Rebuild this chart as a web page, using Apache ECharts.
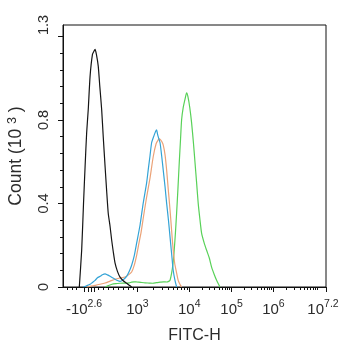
<!DOCTYPE html>
<html>
<head>
<meta charset="utf-8">
<script src="https://cdn.jsdelivr.net/npm/echarts@6/dist/echarts.min.js"></script>
<style>
  html, body { margin: 0; padding: 0; background: #fff; }
  #chart { width: 342px; height: 350px; }
</style>
</head>
<body>
<div id="chart"></div>
<script>
// FITC-H histogram overlay; x is the display channel (0-1000) of the biexponential scale,
// y is the event count in thousands.

// Decade labels on the display scale
const xTickText = [['-10', '2.6'], ['10', '3'], ['10', '4'], ['10', '5'], ['10', '6'], ['10', '7.2']];
const xTickChannel = [80, 283, 480, 641, 800, 1000];
// Extra major ticks clustered around zero
const xZeroTicks = [97, 107, 117];
// Minor ticks in the linear part around zero
const xLinearMinor = [15, 34, 51, 133, 152, 171, 190, 209, 228, 247, 266];
// Decade exponents that get log-spaced minor ticks
const minorDecades = [3, 4, 5, 6, 7];

const yMax = 1.255;
const yLabelValues = [0, 0.4, 0.8, 1.255];
const yLabelText = ['0', '0.4', '0.8', '1.3'];
const yMajorTicks = [0, 0.4, 0.8, 1.2];
const yMinorTicks = [0.08, 0.16, 0.24, 0.32, 0.48, 0.56, 0.64, 0.72, 0.88, 0.96, 1.04, 1.12];

// Histograms: [channel, count (10^3)]
const blackSeries = [
  [62, 0], [71, 0.176], [78, 0.40], [84, 0.577], [90, 0.74], [96, 0.85], [103, 1.01], [112, 1.114],
  [118, 1.13], [122, 1.138], [127, 1.114], [134, 1.058], [140, 0.96], [147, 0.85], [153, 0.72],
  [160, 0.577], [166, 0.46], [172, 0.353], [179, 0.29], [185, 0.225], [191, 0.17], [198, 0.114],
  [207, 0.075], [217, 0.047], [229, 0.03], [242, 0.018], [252, 0.008], [261, 0]
];
const blueSeries = [
  [77, 0], [90, 0.006], [103, 0.013], [112, 0.022], [122, 0.032], [131, 0.044], [141, 0.051],
  [150, 0.059], [160, 0.063], [169, 0.058], [179, 0.051], [188, 0.044], [198, 0.037], [207, 0.031],
  [217, 0.027], [229, 0.035], [242, 0.051], [252, 0.075], [261, 0.104], [271, 0.15], [280, 0.21],
  [293, 0.297], [305, 0.402], [318, 0.499], [324, 0.561], [331, 0.63], [337, 0.691], [346, 0.725],
  [352, 0.745], [356, 0.753], [359, 0.735], [362, 0.72], [369, 0.691], [375, 0.63], [381, 0.561],
  [388, 0.48], [394, 0.402], [401, 0.32], [407, 0.239], [413, 0.16], [419, 0.08], [426, 0.03], [432, 0]
];
const orangeSeries = [
  [90, 0], [106, 0.004], [122, 0.008], [141, 0.013], [160, 0.019], [179, 0.028], [198, 0.037],
  [217, 0.043], [236, 0.048], [249, 0.058], [261, 0.072], [271, 0.105], [280, 0.152], [288, 0.205],
  [297, 0.263], [307, 0.345], [318, 0.431], [331, 0.523], [343, 0.624], [354, 0.686], [362, 0.705],
  [366, 0.71], [371, 0.705], [376, 0.696], [381, 0.681], [388, 0.633], [394, 0.561], [400, 0.47],
  [407, 0.369], [413, 0.27], [419, 0.176], [425, 0.11], [430, 0.08], [438, 0.032], [445, 0.012], [451, 0]
];
const greenSeries = [
  [160, 0], [173, 0.007], [186, 0.013], [201, 0.016], [217, 0.018], [229, 0.019], [242, 0.018],
  [252, 0.02], [261, 0.023], [270, 0.025], [280, 0.024], [296, 0.022], [312, 0.02], [327, 0.019],
  [342, 0.018], [355, 0.021], [369, 0.023], [382, 0.025], [394, 0.024], [402, 0.027], [407, 0.032],
  [413, 0.066], [418, 0.11], [422, 0.162], [427, 0.25], [432, 0.354], [437, 0.47], [442, 0.595],
  [447, 0.71], [451, 0.801], [457, 0.859], [464, 0.9], [470, 0.93], [475, 0.912], [482, 0.86],
  [489, 0.786], [496, 0.69], [502, 0.595], [508, 0.5], [514, 0.402], [521, 0.32], [527, 0.258],
  [537, 0.21], [546, 0.176], [556, 0.14], [565, 0.095], [575, 0.06], [584, 0.032], [591, 0.014], [597, 0]
];

// Log-spaced minor ticks between decade labels on the display scale
const decadePos = { 3: 283, 4: 480, 5: 641, 6: 800, 7: 800 + 200 / 1.2 };
function logMinorTicks() {
  const out = [];
  minorDecades.forEach(function (d) {
    const start = decadePos[d];
    const width = d === 6 ? 200 / 1.2 : (decadePos[d + 1] - start);
    for (let m = 2; m <= 9; m++) {
      const p = start + Math.log10(m) * width;
      if (p < 1000) out.push(+p.toFixed(1));
    }
  });
  out.push(+decadePos[7].toFixed(1));
  return out;
}
const xMinorTicks = xLinearMinor.concat(logMinorTicks());

const textColor = '#2b2b2b';
const fontFamily = '"Liberation Sans", Arial, sans-serif';
const richDecade = {
  b: { fontSize: 15, fontFamily: fontFamily, color: textColor, lineHeight: 18, verticalAlign: 'bottom' },
  s: { fontSize: 10.5, fontFamily: fontFamily, color: textColor, lineHeight: 6, verticalAlign: 'top' },
  pr: { width: 6 }
};

const chart = echarts.init(document.getElementById('chart'), null, { renderer: 'canvas' });

function lineSeries(data, color, z) {
  return {
    type: 'line', data: data, showSymbol: false, smooth: 0.2, z: z,
    lineStyle: { color: color, width: 1.2 }, silent: true
  };
}

chart.setOption({
  animation: false,
  backgroundColor: '#fff',
  grid: {
    left: 63, right: 16, top: 25, bottom: 63,
    outerBoundsMode: 'none', containLabel: false,
    show: true, borderColor: '#111', borderWidth: 1, backgroundColor: 'transparent'
  },
  xAxis: [
    {
      type: 'value', min: 0, max: 1000, position: 'bottom',
      name: 'FITC-H', nameLocation: 'middle', nameGap: 41,
      nameTextStyle: { fontSize: 16, fontFamily: fontFamily, color: textColor },
      axisLine: { onZero: false, lineStyle: { color: '#111', width: 1 } },
      axisTick: { customValues: xTickChannel.concat(xZeroTicks), length: 5, lineStyle: { color: '#111' } },
      axisLabel: {
        customValues: xTickChannel, margin: 12, rich: richDecade,
        formatter: function (v) {
          const i = xTickChannel.indexOf(v);
          if (i < 0) return '';
          const t = xTickText[i];
          return '{b|' + t[0] + '}{s|' + t[1] + '}' + (i === xTickChannel.length - 1 ? '{pr|}' : '');
        }
      },
      splitLine: { show: false }
    },
    {
      type: 'value', min: 0, max: 1000, position: 'bottom',
      axisLine: { show: false, onZero: false },
      axisTick: { customValues: xMinorTicks, length: 3, lineStyle: { color: '#111' } },
      axisLabel: { show: false },
      splitLine: { show: false }
    }
  ],
  yAxis: [
    {
      type: 'value', min: 0, max: yMax, position: 'left',
      name: 'Count (10 {s|3} )', nameLocation: 'middle', nameGap: 36,
      nameTextStyle: {
        fontSize: 17.5, fontFamily: fontFamily, color: textColor, lineHeight: 21, verticalAlign: 'bottom',
        rich: { s: { fontSize: 12.5, fontFamily: fontFamily, color: textColor, lineHeight: 8, verticalAlign: 'top' } }
      },
      axisLine: { onZero: false, lineStyle: { color: '#111', width: 1 } },
      axisTick: { customValues: yMajorTicks, length: 5, lineStyle: { color: '#111' } },
      axisLabel: {
        customValues: yLabelValues, rotate: 90, margin: 12,
        fontSize: 14.5, fontFamily: fontFamily, color: textColor,
        formatter: function (v) {
          const i = yLabelValues.indexOf(v);
          return i < 0 ? '' : yLabelText[i];
        }
      },
      splitLine: { show: false }
    },
    {
      type: 'value', min: 0, max: yMax, position: 'left',
      axisLine: { show: false, onZero: false },
      axisTick: { customValues: yMinorTicks, length: 3, lineStyle: { color: '#111' } },
      axisLabel: { show: false },
      splitLine: { show: false }
    }
  ],
  series: [
    lineSeries(greenSeries, '#58d158', 2),
    lineSeries(orangeSeries, '#eba277', 3),
    lineSeries(blueSeries, '#33a3d6', 4),
    lineSeries(blackSeries, '#151515', 5)
  ]
});
</script>
</body>
</html>
